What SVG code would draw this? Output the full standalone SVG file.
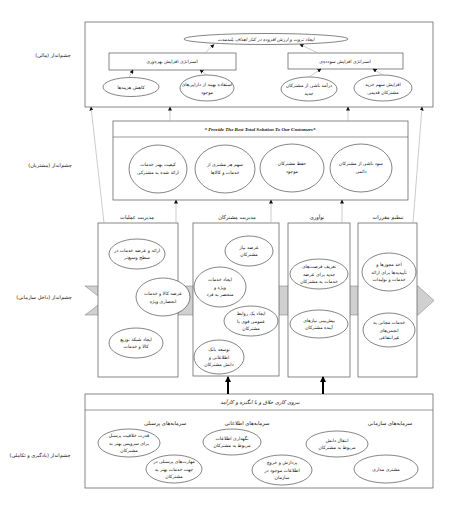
<svg xmlns="http://www.w3.org/2000/svg" width="454" height="511" viewBox="0 0 454 511">
<style>
text{font-family:"DejaVu Sans","Noto Sans",sans-serif;font-size:4.6px;fill:#111;text-anchor:middle;direction:rtl;unicode-bidi:embed}
.lbl{font-size:5px}
.hd{font-size:5.2px}
.en{direction:ltr;font-family:"Liberation Serif",serif;font-style:italic;font-weight:bold;font-size:5px}
.box{fill:#fff;stroke:#555;stroke-width:0.7}
.ell{fill:#fff;stroke:#333;stroke-width:0.6}
.ln{stroke:#aaa;stroke-width:0.6;fill:none;marker-end:url(#ah)}
.thick{stroke:#000;stroke-width:2;fill:none;marker-end:url(#ahb)}
</style>
<defs>
<marker id="ah" markerUnits="userSpaceOnUse" markerWidth="4" markerHeight="4" refX="3.5" refY="2" orient="auto"><path d="M0,0L4,2L0,4z" fill="#111"/></marker>
<marker id="ahb" markerUnits="userSpaceOnUse" markerWidth="6" markerHeight="6" refX="5" refY="3" orient="auto"><path d="M0,0L6,3L0,6z" fill="#000"/></marker>
</defs>
<rect width="454" height="511" fill="#fff"/>

<g id="labels">
<text class="lbl" x="53" y="57">چشم‌انداز (مالی)</text>
<text class="lbl" x="50" y="167">چشم‌انداز (مشتریان)</text>
<text class="lbl" x="44" y="299">چشم‌انداز (داخل سازمانی)</text>
<text class="lbl" x="40" y="457">چشم‌انداز (یادگیری و تکاملی)</text>
</g>

<g id="band">
<polygon points="85,286 418,286 434,300.5 418,315 85,315 104,300.5" fill="#d0d0d0" stroke="#777" stroke-width="0.5"/>
</g>

<g id="financial">
<rect class="box" x="85" y="22" width="348" height="85"/>
<g id="fin-goal"><ellipse class="ell" cx="266" cy="39" rx="82" ry="5.5"/><text x="266" y="40.8" style="font-style:italic">ایجاد ثروت و ارزش افزوده در کنار اهداف بلندمدت</text></g>
<g id="fin-s1"><rect class="box" x="109" y="53" width="127" height="17"/><text x="172" y="63">استراتژی افزایش بهره‌وری</text></g>
<g id="fin-s2"><rect class="box" x="288" y="53" width="115" height="16"/><text x="345" y="62.5">استراتژی افزایش سودده‌ی</text></g>
<g id="fin-e1"><ellipse class="ell" cx="131" cy="87" rx="28" ry="9.5"/><text x="131" y="88.5">کاهش هزینه‌ها</text></g>
<g id="fin-e2"><ellipse class="ell" cx="207" cy="88" rx="27" ry="13"/><text x="207" y="86">استفاده بهینه از دارایی‌های</text><text x="207" y="94">موجود</text></g>
<g id="fin-e3"><ellipse class="ell" cx="309" cy="89" rx="28" ry="12"/><text x="309" y="87">درآمد ناشی از مشترکان</text><text x="309" y="95">جدید</text></g>
<g id="fin-e4"><ellipse class="ell" cx="383" cy="88" rx="29" ry="13"/><text x="383" y="86">افزایش سهم خرید</text><text x="383" y="94">مشترکان قدیمی</text></g>
</g>

<g id="customer">
<rect class="box" x="113" y="121" width="295" height="79"/>
<line x1="113" y1="137" x2="408" y2="137" stroke="#555" stroke-width="0.6"/>
<text class="en" x="260" y="131">* Provide The Best Total Solution To Our Customers*</text>
<g id="cus-e1"><ellipse class="ell" cx="158" cy="169" rx="29" ry="24"/><text x="158" y="166">کیفیت بهتر خدمات</text><text x="158" y="174">ارائه شده به مشترکی</text></g>
<g id="cus-e2"><ellipse class="ell" cx="225" cy="169" rx="30" ry="24"/><text x="225" y="166">سهم هر مشتری از</text><text x="225" y="174">خدمات و کالاها</text></g>
<g id="cus-e3"><ellipse class="ell" cx="292" cy="168" rx="32" ry="24"/><text x="292" y="165">حفظ مشترکان</text><text x="292" y="173">موجود</text></g>
<g id="cus-e4"><ellipse class="ell" cx="361" cy="168" rx="31" ry="24"/><text x="361" y="165">سود ناشی از مشترکان</text><text x="361" y="173">دائمی</text></g>
</g>

<g id="internal">
<g id="int-ops">
<text class="hd" x="137" y="219">مدیریت عملیات</text>
<rect class="box" x="98" y="223" width="80" height="154"/>
<ellipse class="ell" cx="137" cy="254" rx="28" ry="15"/><text x="137" y="252">ارائه و عرضه خدمات در</text><text x="137" y="259">سطح وسیع‌تر</text>
<ellipse class="ell" cx="163" cy="297" rx="27" ry="19"/><text x="163" y="295">عرضه کالا و خدمات</text><text x="163" y="303">انحصاری ویژه</text>
<ellipse class="ell" cx="136" cy="343" rx="27" ry="15"/><text x="136" y="341">ایجاد شبکه توزیع</text><text x="136" y="348">کالا و خدمات</text>
</g>
<g id="int-cust">
<text class="hd" x="237" y="219">مدیریت مشترکان</text>
<rect class="box" x="193" y="223" width="86" height="153"/>
<ellipse class="ell" cx="249" cy="251" rx="24" ry="15"/><text x="249" y="249">عرضه نیاز</text><text x="249" y="256">مشترکان</text>
<ellipse class="ell" cx="220" cy="287" rx="26" ry="20"/><text x="220" y="281">ایجاد خدمات</text><text x="220" y="288.5">ویژه و</text><text x="220" y="296">منحصر به فرد</text>
<ellipse class="ell" cx="251" cy="321" rx="27" ry="15"/><text x="251" y="315">ایجاد یک روابط</text><text x="251" y="322.5">عمومی قوی با</text><text x="251" y="330">مشترکان</text>
<ellipse class="ell" cx="219" cy="357" rx="25" ry="17"/><text x="219" y="351">توسعه بانک</text><text x="219" y="358.5">اطلاعاتی و</text><text x="219" y="366">دانش مشترکان</text>
</g>
<g id="int-innov">
<text class="hd" x="317" y="219">نوآوری</text>
<rect class="box" x="288" y="223" width="62" height="154"/>
<ellipse class="ell" cx="319" cy="274" rx="29" ry="15"/><text x="319" y="268">تعریف فرصت‌های</text><text x="319" y="275.5">جدید برای عرضه</text><text x="319" y="283">خدمات به مشترکان</text>
<ellipse class="ell" cx="319" cy="324" rx="29" ry="14"/><text x="319" y="322">پیش‌بینی نیازهای</text><text x="319" y="329">آینده مشترکان</text>
</g>
<g id="int-reg">
<text class="hd" x="388" y="219">تنظیم مقررات</text>
<rect class="box" x="358" y="223" width="59" height="154"/>
<ellipse class="ell" cx="389" cy="272" rx="27" ry="19"/><text x="389" y="266">اخذ مجوزها و</text><text x="389" y="273.5">تأییدیه‌ها برای ارائه</text><text x="389" y="281">خدمات و تولیدات</text>
<ellipse class="ell" cx="389" cy="330" rx="26" ry="17"/><text x="389" y="324">خدمات مجانی به</text><text x="389" y="331.5">انجمن‌های</text><text x="389" y="339">غیرانتفاعی</text>
</g>
</g>

<g id="learning">
<rect class="box" x="85" y="394" width="348" height="94"/>
<line x1="85" y1="410" x2="433" y2="410" stroke="#555" stroke-width="0.6"/>
<text class="hd" x="260" y="404" style="font-style:italic">نیروی کاری خلاق و با انگیزه و کارآمد</text>
<text class="hd" x="165" y="425">سرمایه‌های پرسنلی</text>
<text class="hd" x="247" y="425">سرمایه‌های اطلاعاتی</text>
<text class="hd" x="390" y="425">سرمایه‌های سازمانی</text>
<g id="lrn-e1"><ellipse class="ell" cx="129" cy="443" rx="31" ry="14"/><text x="129" y="437">قدرت خلاقیت پرسنل</text><text x="129" y="444.5">برای سرویس بهتر به</text><text x="129" y="452">مشترکان</text></g>
<g id="lrn-e2"><ellipse class="ell" cx="174" cy="469" rx="28" ry="14"/><text x="174" y="463">مهارت‌های پرسنلی در</text><text x="174" y="470.5">جهت خدمات بهتر به</text><text x="174" y="478">مشترکان</text></g>
<g id="lrn-e3"><ellipse class="ell" cx="232" cy="442" rx="29" ry="13"/><text x="232" y="440">نگهداری اطلاعات</text><text x="232" y="447">مربوط به مشترکان</text></g>
<g id="lrn-e4"><ellipse class="ell" cx="282" cy="470" rx="30" ry="15"/><text x="282" y="464">پردازش و خروج</text><text x="282" y="471.5">اطلاعات موجود در</text><text x="282" y="479">سازمان</text></g>
<g id="lrn-e5"><ellipse class="ell" cx="337" cy="444" rx="31" ry="13"/><text x="337" y="442">انتقال دانش</text><text x="337" y="449">مربوط به مشترکان</text></g>
<g id="lrn-e6"><ellipse class="ell" cx="386" cy="469" rx="32" ry="14"/><text x="386" y="471">مشتری مداری</text></g>
</g>

<g id="connectors">
<line class="ln" x1="205" y1="53" x2="214" y2="44.5"/>
<line class="ln" x1="318" y1="53" x2="300" y2="44.5"/>
<line class="ln" x1="129" y1="77.5" x2="133" y2="70"/>
<line class="ln" x1="207" y1="75" x2="200" y2="70"/>
<line class="ln" x1="309" y1="77" x2="321" y2="69"/>
<line class="ln" x1="383" y1="75" x2="373" y2="69"/>
<line class="ln" x1="104" y1="223" x2="91" y2="107"/>
<line class="ln" x1="170" y1="121" x2="170" y2="107"/>
<line class="ln" x1="348" y1="121" x2="348" y2="107"/>
<line class="ln" x1="413" y1="223" x2="422" y2="107"/>
<line class="ln" x1="176" y1="223" x2="176" y2="200"/>
<line class="ln" x1="271" y1="223" x2="271" y2="200"/>
<line class="ln" x1="342" y1="223" x2="342" y2="200"/>
<line class="thick" x1="228" y1="394" x2="228" y2="377"/>
<line class="thick" x1="323" y1="394" x2="323" y2="377"/>
</g>
</svg>
